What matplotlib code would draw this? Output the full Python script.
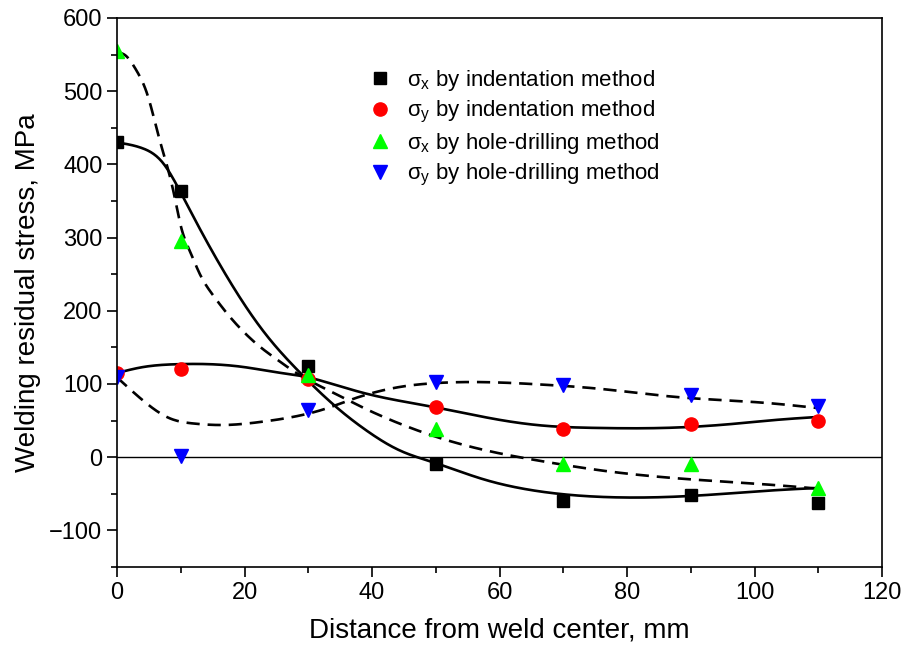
import numpy as np
import matplotlib.pyplot as plt

plt.rcParams['font.family'] = ['Liberation Sans', 'DejaVu Sans']
plt.rcParams['mathtext.fontset'] = 'custom'
plt.rcParams['mathtext.rm'] = 'Liberation Sans'
plt.rcParams['mathtext.it'] = 'Liberation Sans'

# measured points
distance = [0, 10, 30, 50, 70, 90, 110]
sx_indent = [430, 363, 125, -10, -60, -52, -62]
sy_indent = [115, 120, 107, 68, 38, 45, 50]
sx_hole = [555, 295, 112, 38, -10, -10, -42]
sy_hole = [110, 2, 65, 103, 98, 85, 70]

# fitted curves
fit_sx_indent_x = [0, 4, 7.2, 9.6, 12.5, 16.2, 19.8, 23.5, 28.2, 32.9, 35, 39.2, 44.4, 49.6, 57.4, 65, 75.3, 89.9, 103.5, 110]
fit_sx_indent_y = [430, 422, 402, 368, 320, 262, 211, 166, 120, 80, 64, 36, 9, -7, -30, -45, -54, -53, -45, -42]
fit_sy_indent_x = [0, 4, 9.4, 14.6, 20, 25, 30, 33, 39, 50, 60, 67, 75, 86, 96, 103.5, 110]
fit_sy_indent_y = [115, 123, 127, 127, 123, 116, 109, 102, 87, 68, 51, 43, 40, 40, 45, 51, 55]
fit_sx_hole_x = [0, 1.3, 3, 4.7, 6.7, 8.8, 10, 11.5, 13, 15, 17.2, 20, 22.4, 25, 28.5, 33, 39, 44, 50, 57, 67, 75, 88, 103, 110]
fit_sx_hole_y = [553, 549, 529, 497, 433, 365, 316, 280, 250, 222, 197, 170, 151, 134, 113, 92, 66, 47, 28, 11, -6, -17, -29, -38, -43]
fit_sy_hole_x = [0, 4, 8.3, 12, 17, 22.4, 27.6, 33, 36.5, 44.4, 49.6, 60, 67, 75, 88, 102, 110]
fit_sy_hole_y = [109, 78, 53, 46, 44, 48, 55, 67, 78, 96, 101, 102, 99, 94, 82, 74, 67]


def spline(x, y, num=500):
    # natural cubic spline
    x = np.asarray(x, float)
    y = np.asarray(y, float)
    n = len(x)
    h = np.diff(x)
    A = np.zeros((n, n))
    b = np.zeros(n)
    A[0, 0] = A[-1, -1] = 1
    for i in range(1, n - 1):
        A[i, i - 1] = h[i - 1]
        A[i, i] = 2 * (h[i - 1] + h[i])
        A[i, i + 1] = h[i]
        b[i] = 6 * ((y[i + 1] - y[i]) / h[i] - (y[i] - y[i - 1]) / h[i - 1])
    M = np.linalg.solve(A, b)
    xs = np.linspace(x[0], x[-1], num)
    i = np.clip(np.searchsorted(x, xs) - 1, 0, n - 2)
    hi = h[i]
    a = x[i + 1] - xs
    c = xs - x[i]
    ys = (M[i] * a ** 3 + M[i + 1] * c ** 3) / (6 * hi) \
        + (y[i] / hi - M[i] * hi / 6) * a + (y[i + 1] / hi - M[i + 1] * hi / 6) * c
    return xs, ys


fig = plt.figure(figsize=(9.05, 6.56), dpi=100)
ax = fig.add_axes([0.1293, 0.1357, 0.8453, 0.8369])

for fx, fy, ls in [(fit_sx_indent_x, fit_sx_indent_y, '-'), (fit_sy_indent_x, fit_sy_indent_y, '-'),
                   (fit_sx_hole_x, fit_sx_hole_y, '--'), (fit_sy_hole_x, fit_sy_hole_y, '--')]:
    xs, ys = spline(fx, fy)
    line, = ax.plot(xs, ys, color='black', lw=1.9, ls=ls)
    if ls == '--':
        line.set_dashes((5, 3))

ax.axhline(0, color='black', lw=1.0)

ax.plot(distance, sx_indent, 's', color='black', ms=9, ls='none', label=r'σ$_{\rm x}$ by indentation method')
ax.plot(distance, sy_indent, 'o', color='#ff0000', ms=9.5, ls='none', label=r'σ$_{\rm y}$ by indentation method')
ax.plot(distance, sx_hole, '^', color='#00ff00', ms=10, ls='none', label=r'σ$_{\rm x}$ by hole-drilling method')
ax.plot(distance, sy_hole, 'v', color='#0000ff', ms=10, ls='none', label=r'σ$_{\rm y}$ by hole-drilling method')

ax.set_xlim(0, 120)
ax.set_ylim(-150, 600)
ax.set_xticks(range(0, 121, 20))
ax.set_xticks(range(10, 120, 20), minor=True)
ax.set_yticks(range(-100, 601, 100))
ax.set_yticks(range(-150, 600, 100), minor=True)
ax.tick_params(which='both', direction='out', top=False, right=False, labelsize=17, width=1.2)
ax.tick_params(which='major', length=7)
ax.tick_params(which='minor', length=4)
for s in ax.spines.values():
    s.set_linewidth(1.2)

ax.set_xlabel('Distance from weld center, mm', fontsize=20, labelpad=10)
ax.set_ylabel('Welding residual stress, MPa', fontsize=20, labelpad=6)

ax.legend(loc='upper left', bbox_to_anchor=(0.3, 0.945), frameon=False, fontsize=16,
          handletextpad=0.6, labelspacing=0.27, handlelength=1.2)

fig.savefig('out.png', dpi=100)
